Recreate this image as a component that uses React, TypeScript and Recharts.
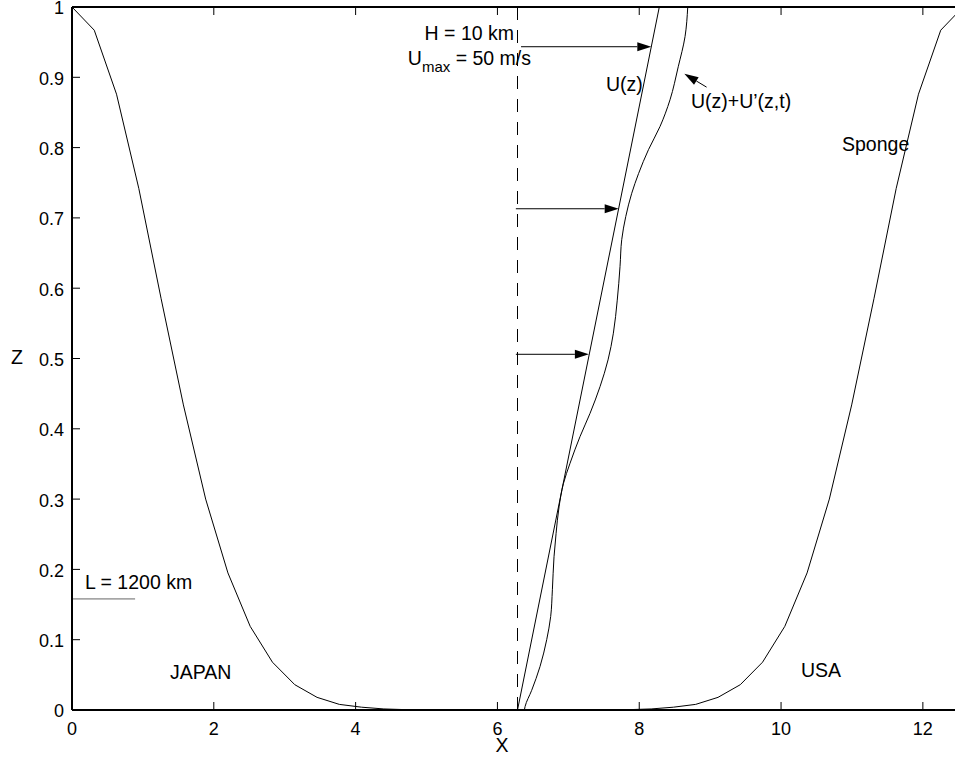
import React from 'react';
import { LineChart, Line, XAxis, YAxis, ReferenceLine } from 'recharts';

// sponge profile, sampled every pi/10 across the domain
const spongeX = [
  0, 0.314, 0.628, 0.942, 1.257, 1.571, 1.885, 2.199, 2.513, 2.827, 3.142,
  3.456, 3.77, 4.084, 4.398, 4.712, 5.027, 5.341, 5.655, 5.969, 6.283,
  6.597, 6.912, 7.226, 7.54, 7.854, 8.168, 8.482, 8.796, 9.111, 9.425,
  9.739, 10.053, 10.367, 10.681, 10.996, 11.31, 11.624, 11.938, 12.252, 12.566,
];
const spongeZ = [
  1, 0.967, 0.876, 0.742, 0.585, 0.434, 0.3, 0.195, 0.119, 0.068, 0.036,
  0.018, 0.008, 0.004, 0.0015, 0.0005, 0, 0, 0, 0, 0,
  0, 0, 0, 0, 0.0005, 0.0015, 0.004, 0.008, 0.018, 0.036,
  0.068, 0.119, 0.195, 0.3, 0.434, 0.585, 0.742, 0.876, 0.967, 1,
];

// mean wind U(z)
const meanX = [6.283, 8.283];
const meanZ = [0, 1];

// U(z) + U'(z,t)
const pertZ = [
  0, 0.005, 0.028, 0.062, 0.1, 0.133, 0.171, 0.218, 0.251, 0.289, 0.322,
  0.351, 0.389, 0.422, 0.46, 0.498, 0.536, 0.583, 0.631, 0.669, 0.702,
  0.735, 0.763, 0.797, 0.83, 0.868, 0.915, 0.958, 1,
];
const pertX = [
  6.38, 6.39, 6.483, 6.601, 6.695, 6.751, 6.775, 6.798, 6.827, 6.869, 6.93,
  7.024, 7.165, 7.306, 7.447, 7.56, 7.635, 7.69, 7.729, 7.753, 7.81,
  7.894, 7.99, 8.13, 8.293, 8.434, 8.55, 8.646, 8.684,
];

// arrows: start x/z, end x/z
const arrowX0 = [6.333, 6.26, 6.26, 8.95];
const arrowZ0 = [0.9435, 0.713, 0.506, 0.886];
const arrowX1 = [8.17, 7.71, 7.29, 8.636];
const arrowZ1 = [0.9435, 0.713, 0.506, 0.905];

const rulerX = [0, 0.89];
const rulerZ = 0.158;
const centerX = 6.283;

const xTicks = [0, 2, 4, 6, 8, 10, 12];
const zTicks = [0, 0.1, 0.2, 0.3, 0.4, 0.5, 0.6, 0.7, 0.8, 0.9, 1];
const xDomain = [0, 12.566];
const zDomain = [0, 1];

const FONT = '"Liberation Sans", Arial, Helvetica, sans-serif';

const spongeData = spongeX.map((x, i) => ({ x, z: spongeZ[i] }));
const meanData = meanX.map((x, i) => ({ x, z: meanZ[i] }));
const pertData = pertX.map((x, i) => ({ x, z: pertZ[i] }));

const YTick = (props: any) => {
  const { x, y, payload } = props;
  return (
    <g>
      <text x={x} y={y + 1} dy="0.36em" textAnchor="end" fontSize={18} fontFamily={FONT} fill="#000">
        {String(payload.value)}
      </text>
      <line x1={x + 8} y1={y} x2={x + 16} y2={y} stroke="#000" />
    </g>
  );
};

const XTick = (props: any) => {
  const { x, y, payload } = props;
  return (
    <g>
      <text x={x} y={y} dy="0.71em" textAnchor="middle" fontSize={18} fontFamily={FONT} fill="#000">
        {String(payload.value)}
      </text>
      <line x1={x} y1={y - 12} x2={x} y2={y - 20} stroke="#000" />
    </g>
  );
};

const TopTick = (props: any) => {
  const { x, y } = props;
  return <line x1={x} y1={y} x2={x} y2={y + 8} stroke="#000" />;
};

const RightTick = (props: any) => {
  const { x, y } = props;
  return <line x1={x} y1={y} x2={x - 8} y2={y} stroke="#000" />;
};

const Arrow = (props: any) => {
  const { x1, y1, x2, y2 } = props;
  const dx = x2 - x1;
  const dy = y2 - y1;
  const len = Math.sqrt(dx * dx + dy * dy) || 1;
  const ux = dx / len;
  const uy = dy / len;
  const hl = 14;
  const hw = 4.5;
  const bx = x2 - ux * hl;
  const by = y2 - uy * hl;
  return (
    <g>
      <line x1={x1} y1={y1} x2={bx} y2={by} stroke="#000" strokeWidth={1} />
      <polygon
        points={`${x2},${y2} ${bx - uy * hw},${by + ux * hw} ${bx + uy * hw},${by - ux * hw}`}
        fill="#000"
      />
    </g>
  );
};

const textStyle = { fontFamily: FONT, fontSize: 19.5, fill: '#000' };

export default function App() {
  return (
    <div style={{ position: 'absolute', left: 0, top: 0, width: 955, height: 757, overflow: 'hidden', background: '#fff' }}>
      <LineChart
        width={1000}
        height={757}
        margin={{ top: 6, right: 36, bottom: 46, left: 71 }}
        style={{ fontFamily: FONT }}
      >
        <XAxis
          xAxisId="b"
          type="number"
          dataKey="x"
          domain={xDomain}
          allowDataOverflow
          ticks={xTicks}
          interval={0}
          height={1}
          tickSize={0}
          tickMargin={12}
          tickLine={false}
          axisLine={{ stroke: '#000', strokeWidth: 2 }}
          tick={<XTick />}
        />
        <XAxis
          xAxisId="t"
          orientation="top"
          type="number"
          dataKey="x"
          domain={xDomain}
          allowDataOverflow
          ticks={xTicks}
          interval={0}
          height={1}
          tickSize={0}
          tickMargin={0}
          tickLine={false}
          axisLine={{ stroke: '#000', strokeWidth: 2 }}
          tick={<TopTick />}
        />
        <YAxis
          yAxisId="l"
          type="number"
          dataKey="z"
          domain={zDomain}
          allowDataOverflow
          ticks={zTicks}
          interval={0}
          width={1}
          tickSize={0}
          tickMargin={8}
          tickLine={false}
          axisLine={{ stroke: '#000', strokeWidth: 2 }}
          tick={<YTick />}
        />
        <YAxis
          yAxisId="r"
          orientation="right"
          type="number"
          dataKey="z"
          domain={zDomain}
          allowDataOverflow
          ticks={zTicks}
          interval={0}
          width={1}
          tickSize={0}
          tickMargin={0}
          tickLine={false}
          axisLine={{ stroke: '#000', strokeWidth: 2 }}
          tick={<RightTick />}
        />
        <ReferenceLine
          xAxisId="b"
          yAxisId="l"
          x={centerX}
          stroke="#000"
          strokeDasharray="13 10"
          ifOverflow="visible"
        />
        <ReferenceLine
          xAxisId="b"
          yAxisId="l"
          segment={[{ x: rulerX[0], y: rulerZ }, { x: rulerX[1], y: rulerZ }]}
          stroke="#666"
          ifOverflow="visible"
        />
        <Line
          xAxisId="b"
          yAxisId="l"
          data={spongeData}
          dataKey="z"
          type="linear"
          stroke="#000"
          strokeWidth={1}
          dot={false}
          isAnimationActive={false}
        />
        <Line
          xAxisId="b"
          yAxisId="l"
          data={meanData}
          dataKey="z"
          type="linear"
          stroke="#000"
          strokeWidth={1}
          dot={false}
          isAnimationActive={false}
        />
        <Line
          xAxisId="b"
          yAxisId="l"
          data={pertData}
          dataKey="z"
          type="monotoneY"
          stroke="#000"
          strokeWidth={1}
          dot={false}
          isAnimationActive={false}
        />
        {arrowX0.map((x0, i) => (
          <ReferenceLine
            key={`arrow-${i}`}
            xAxisId="b"
            yAxisId="l"
            segment={[{ x: x0, y: arrowZ0[i] }, { x: arrowX1[i], y: arrowZ1[i] }]}
            ifOverflow="visible"
            shape={(p: any) => <Arrow {...p} />}
          />
        ))}
      </LineChart>
      <svg
        width={955}
        height={757}
        style={{ position: 'absolute', left: 0, top: 0, pointerEvents: 'none' }}
      >
        <text x={514} y={40} textAnchor="end" style={textStyle}>H = 10 km</text>
        <text x={531} y={65} textAnchor="end" style={textStyle}>
          U<tspan dy={7} fontSize={15}>max</tspan>
          <tspan dy={-7}> = 50 m/s</tspan>
        </text>
        <text x={606} y={91} style={textStyle}>U(z)</text>
        <text x={691} y={108} style={textStyle}>U(z)+U’(z,t)</text>
        <text x={842} y={151} style={textStyle}>Sponge</text>
        <text x={170} y={679} style={textStyle}>JAPAN</text>
        <text x={801} y={677} style={textStyle}>USA</text>
        <text x={85} y={589} style={textStyle}>L = 1200 km</text>
        <text x={502} y={752} textAnchor="middle" style={textStyle}>X</text>
        <text x={17} y={364} textAnchor="middle" style={textStyle}>Z</text>
      </svg>
    </div>
  );
}
